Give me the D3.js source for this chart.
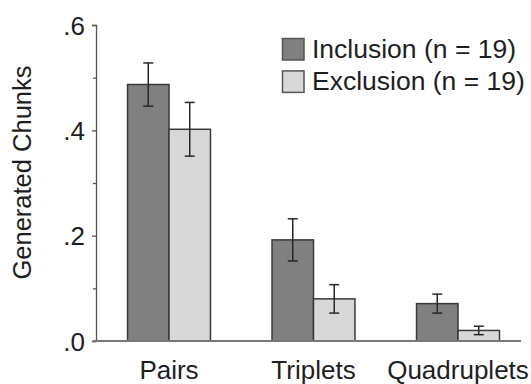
<!DOCTYPE html>
<html><head><meta charset="utf-8">
<script src="https://cdn.jsdelivr.net/npm/d3@7"></script>
<style>body{margin:0;background:#fff}svg{display:block;font-family:"Liberation Sans",Arial,Helvetica,sans-serif}</style>
</head><body><svg id="c" width="531" height="384"></svg>
<script>
const categories = ["Pairs", "Triplets", "Quadruplets"];
const seriesNames = ["Inclusion (n = 19)", "Exclusion (n = 19)"];
const inclusion = [0.487, 0.192, 0.071];
const exclusion = [0.402, 0.080, 0.020];
const inclusionErr = [0.041, 0.040, 0.018];
const exclusionErr = [0.051, 0.027, 0.008];
const yTicks = [0, 0.2, 0.4, 0.6];
const yTickLabels = [".0", ".2", ".4", ".6"];
const yMinorTicks = [0.1, 0.3, 0.5];
const yLabel = "Generated Chunks";

const colors = ["#808080", "#d8d8d8"];
const svg = d3.select("#c");
const y = d3.scaleLinear().domain([0, 0.6]).range([341, 25]);
const x = d3.scaleBand().domain(categories).range([96.75, 530.25]).paddingInner(0.426).paddingOuter(0.213);
const xs = d3.scaleBand().domain([0, 1]).range([0, x.bandwidth()]);

const data = categories.map((c, i) => [
  {c, s: 0, v: inclusion[i], e: inclusionErr[i]},
  {c, s: 1, v: exclusion[i], e: exclusionErr[i]}
]).flat();

// bars
svg.append("g").selectAll("rect").data(data).join("rect")
  .attr("x", d => x(d.c) + xs(d.s))
  .attr("y", d => y(d.v))
  .attr("width", xs.bandwidth())
  .attr("height", d => y(0) - y(d.v))
  .attr("fill", d => colors[d.s])
  .attr("stroke", "#3a3a3a").attr("stroke-width", 1.5);

// error bars
const eb = svg.append("g").attr("stroke", "#262626").attr("stroke-width", 1.5);
data.forEach(d => {
  const cx = x(d.c) + xs(d.s) + xs.bandwidth() / 2;
  eb.append("line").attr("x1", cx).attr("x2", cx).attr("y1", y(d.v + d.e)).attr("y2", y(d.v - d.e));
  [d.v + d.e, d.v - d.e].forEach(v => eb.append("line").attr("x1", cx - 5).attr("x2", cx + 5).attr("y1", y(v)).attr("y2", y(v)));
});

// y axis
const yAxis = d3.axisLeft(y).tickValues(yTicks).tickFormat((d, i) => yTickLabels[i]).tickSize(4).tickPadding(7);
const gy = svg.append("g").attr("transform", "translate(96,0)").call(yAxis);
gy.select(".domain").attr("stroke", "#555").attr("stroke-width", 1.3);
gy.selectAll(".tick line").attr("stroke", "#555").attr("stroke-width", 1.3);
gy.selectAll(".tick text").attr("font-size", 26).attr("fill", "#1e1e1e").attr("font-family", "Liberation Sans, Arial, sans-serif").attr("dy", "0.35em");
const gyMinor = d3.axisLeft(y).tickValues(yMinorTicks).tickFormat("").tickSize(3);
svg.append("g").attr("transform", "translate(96,0)").call(gyMinor)
  .call(g => g.select(".domain").remove())
  .selectAll(".tick line").attr("stroke", "#555").attr("stroke-width", 1.3);

// x axis baseline
const xAxis = d3.axisBottom(x).tickSize(0).tickPadding(20);
const gx = svg.append("g").attr("transform", `translate(0,${y(0)})`).call(xAxis);
gx.select(".domain").attr("d", `M93,0H521`).attr("stroke", "#777").attr("stroke-width", 2);
gx.selectAll(".tick text").attr("font-size", 26).attr("fill", "#1e1e1e").attr("font-family", "Liberation Sans, Arial, sans-serif").attr("dy", "0.71em");

// y label
svg.append("text").attr("transform", "translate(31,172.5) rotate(-90)")
  .attr("text-anchor", "middle").attr("font-size", 25.5).attr("fill", "#1e1e1e").text(yLabel);

// legend
const lg = svg.append("g");
seriesNames.forEach((n, i) => {
  const yy = 38.5 + i * 32.4;
  lg.append("rect").attr("x", 282.5).attr("y", yy).attr("width", 21.5).attr("height", 21.5)
    .attr("fill", colors[i]).attr("stroke", "#555").attr("stroke-width", 1.5);
  lg.append("text").attr("x", 312).attr("y", yy + 19).attr("font-size", 26.5).attr("fill", "#1e1e1e").text(n);
});
</script></body></html>
